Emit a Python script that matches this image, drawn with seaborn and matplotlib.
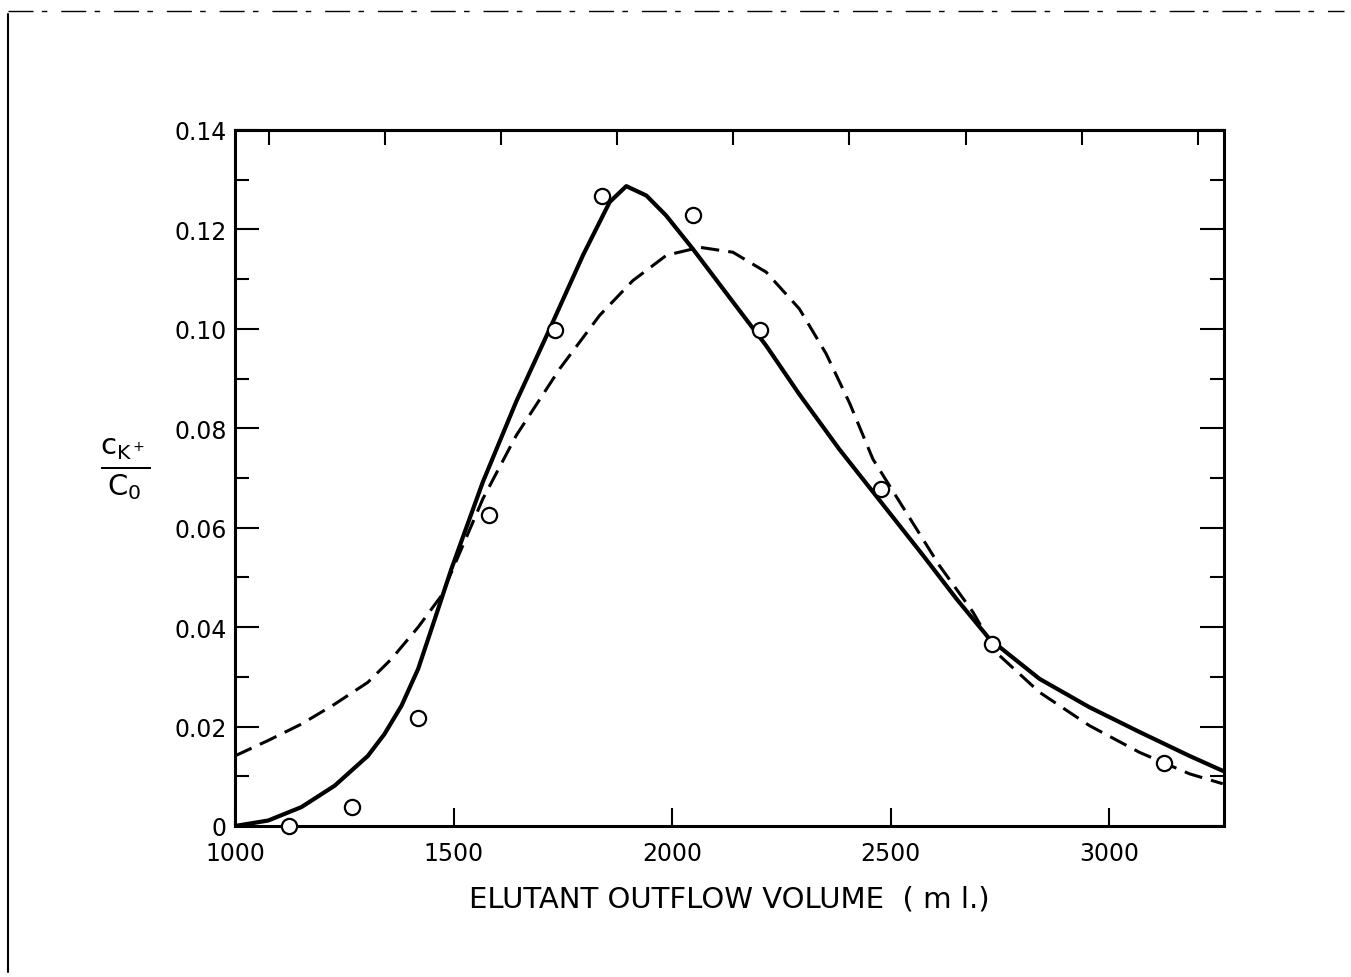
import numpy as np
import pandas as pd
import seaborn as sns
import matplotlib.pyplot as plt
from matplotlib.ticker import FixedLocator, FixedFormatter, MultipleLocator

# --- data ------------------------------------------------------------------
obs_volume = [1123, 1268, 1419, 1582, 1733, 1839, 2047, 2201, 2478, 2732, 3124]
obs_conc = [0.0, 0.0039, 0.0217, 0.0626, 0.0997, 0.1268, 0.1228, 0.0997, 0.0678, 0.0366, 0.0126]

solid_volume = [1000, 1076, 1152, 1228, 1304, 1342, 1381, 1419, 1457, 1495, 1567, 1643,
                1720, 1796, 1857, 1895, 1941, 1986, 2047, 2139, 2215, 2291, 2382,
                2478, 2574, 2650, 2726, 2840, 2954, 3069, 3183, 3259]
solid_conc = [0.0, 0.0011, 0.0038, 0.0081, 0.0141, 0.0185, 0.0242, 0.0316, 0.0416, 0.0517,
              0.0692, 0.0853, 0.1000, 0.1148, 0.1255, 0.1287, 0.1268, 0.1228, 0.1161,
              0.1054, 0.0966, 0.0868, 0.0758, 0.0651, 0.0544, 0.0457, 0.0376, 0.0296,
              0.0239, 0.0189, 0.0141, 0.0111]

dashed_volume = [1000, 1076, 1152, 1228, 1304, 1358, 1419, 1472, 1567, 1643, 1743, 1834,
                 1910, 1987, 2063, 2139, 2215, 2291, 2352, 2406, 2459, 2535, 2611,
                 2688, 2741, 2840, 2954, 3069, 3183, 3259]
dashed_conc = [0.0141, 0.0172, 0.0205, 0.0245, 0.0289, 0.0336, 0.0400, 0.0463, 0.0658,
               0.0785, 0.0920, 0.1027, 0.1097, 0.1148, 0.1164, 0.1154, 0.1114, 0.1040,
               0.0950, 0.0850, 0.0738, 0.0631, 0.0524, 0.0430, 0.0349, 0.0269, 0.0202,
               0.0148, 0.0105, 0.0085]

x_ticks = [1000, 1500, 2000, 2500, 3000]
x_tick_labels = ["1000", "1500", "2000", "2500", "3000"]
y_ticks = [0, 0.02, 0.04, 0.06, 0.08, 0.10, 0.12, 0.14]
y_tick_labels = ["0", "0.02", "0.04", "0.06", "0.08", "0.10", "0.12", "0.14"]
top_ticks = [1078 + 265.5 * k for k in range(9)]

df_obs = pd.DataFrame({"volume": obs_volume, "conc": obs_conc})
df_solid = pd.DataFrame({"volume": solid_volume, "conc": solid_conc})
df_dash = pd.DataFrame({"volume": dashed_volume, "conc": dashed_conc})

# --- plot ------------------------------------------------------------------
sns.set_theme(style="white", rc={"axes.linewidth": 2.2, "axes.edgecolor": "black",
                                 "text.color": "black", "axes.labelcolor": "black",
                                 "xtick.color": "black", "ytick.color": "black"})
plt.rcParams["font.family"] = ["DejaVu Sans"]

fig = plt.figure(figsize=(13.51, 9.78), dpi=100)
ax = fig.add_axes([0.1739, 0.1544, 0.7321, 0.7117])

sns.lineplot(data=df_solid, x="volume", y="conc", ax=ax, color="black",
             linewidth=3.0, sort=False, estimator=None)
sns.lineplot(data=df_dash, x="volume", y="conc", ax=ax, color="black",
             linewidth=2.2, sort=False, estimator=None)
ax.lines[-1].set_dashes((6, 3))
sns.scatterplot(data=df_obs, x="volume", y="conc", ax=ax, marker="o", s=120,
                facecolor="white", edgecolor="black", linewidth=1.6, zorder=5,
                clip_on=False)

ax.set_xlim(1000, 3262)
ax.set_ylim(0, 0.14)

ax.xaxis.set_major_locator(FixedLocator(x_ticks))
ax.xaxis.set_major_formatter(FixedFormatter(x_tick_labels))
ax.yaxis.set_major_locator(FixedLocator(y_ticks))
ax.yaxis.set_major_formatter(FixedFormatter(y_tick_labels))
ax.yaxis.set_minor_locator(MultipleLocator(0.01))

ax.tick_params(axis="both", which="major", direction="in", color="black",
               labelsize=17, width=1.5)
ax.tick_params(axis="x", which="major", length=13, pad=11, bottom=True, top=False)
ax.tick_params(axis="y", which="major", length=17, pad=6, left=True, right=True)
ax.tick_params(axis="y", which="minor", direction="in", length=10, width=1.5,
               left=True, right=True)

# top edge carries its own tick marks, no labels
top = ax.secondary_xaxis("top")
top.set_xticks(top_ticks)
top.set_xticklabels([])
top.tick_params(direction="in", length=11, width=1.5, color="black")
top.spines["top"].set_linewidth(2.2)

ax.set_xlabel("ELUTANT OUTFLOW VOLUME  ( m l.)", fontsize=21, labelpad=14)
ax.set_ylabel("")
fig.text(0.093, 0.52, r"$\frac{\mathrm{c}_{\mathrm{K}^+}}{\mathrm{C}_0}$", fontsize=30,
         ha="center", va="center")

# scan frame edges
fig.add_artist(plt.Line2D([0.006, 0.006], [0.005, 0.985], color="black", lw=1.5))
fig.add_artist(plt.Line2D([0.006, 0.995], [0.988, 0.988], color="black", lw=1.0,
                          linestyle=(0, (18, 6, 4, 10))))

plt.savefig("out.png", dpi=100, facecolor="white")
